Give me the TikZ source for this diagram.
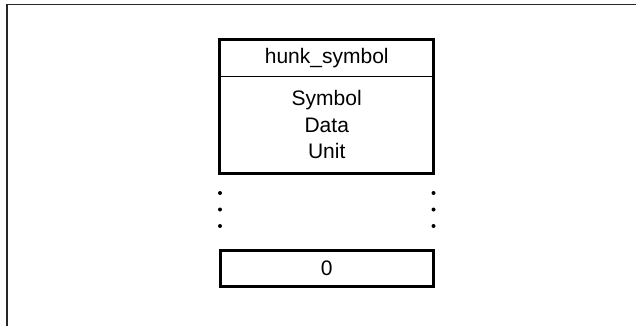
\documentclass[tikz,border=0pt]{standalone}
\usepackage{fontspec}
\setmainfont{Liberation Sans}
\begin{document}
\begin{tikzpicture}[x=1bp,y=-1bp,
  labeltext/.style={font=\fontsize{21bp}{26.5bp}\selectfont, inner sep=0pt, align=center},
  cellbox/.style={labeltext, minimum width=213.5bp, anchor=center},
  heavyline/.style={line width=3bp, draw=black},
  thinrule/.style={line width=1.5bp, draw=black},
  framestroke/.style={line width=1.5bp, draw=black!85},
  dotmark/.style={circle, fill=black, inner sep=0pt, minimum size=4bp}]
  \useasboundingbox (0,0) rectangle (636,325);

  % page frame (only top and left edges show)
  \coordinate (frTL) at (7,4.5);
  \coordinate (frTR) at (640,4.5);
  \coordinate (frBL) at (7,330);
  \draw[framestroke] (frTR) -- (frTL) -- (frBL);

  % hunk_symbol record
  \node[cellbox, minimum height=36.5bp] (hdr) at (326.75,58.25) {hunk\_symbol};
  \node[cellbox, minimum height=96.5bp] (body) at (326.75,124.75) {Symbol\\Data\\Unit};
  \draw[thinrule] (hdr.south west) -- (hdr.south east);
  \draw[heavyline] (hdr.north west) rectangle (body.south east);

  % continuation dots
  \foreach \y [count=\i] in {193,209.5,226} {
    \node[dotmark] (dl\i) at (220,\y) {};
    \node[dotmark] (dr\i) at (433.5,\y) {};
  }

  % terminating entry
  \node[cellbox, minimum height=36bp, heavyline] (zero) at (326.75,268) {0};
\end{tikzpicture}
\end{document}
